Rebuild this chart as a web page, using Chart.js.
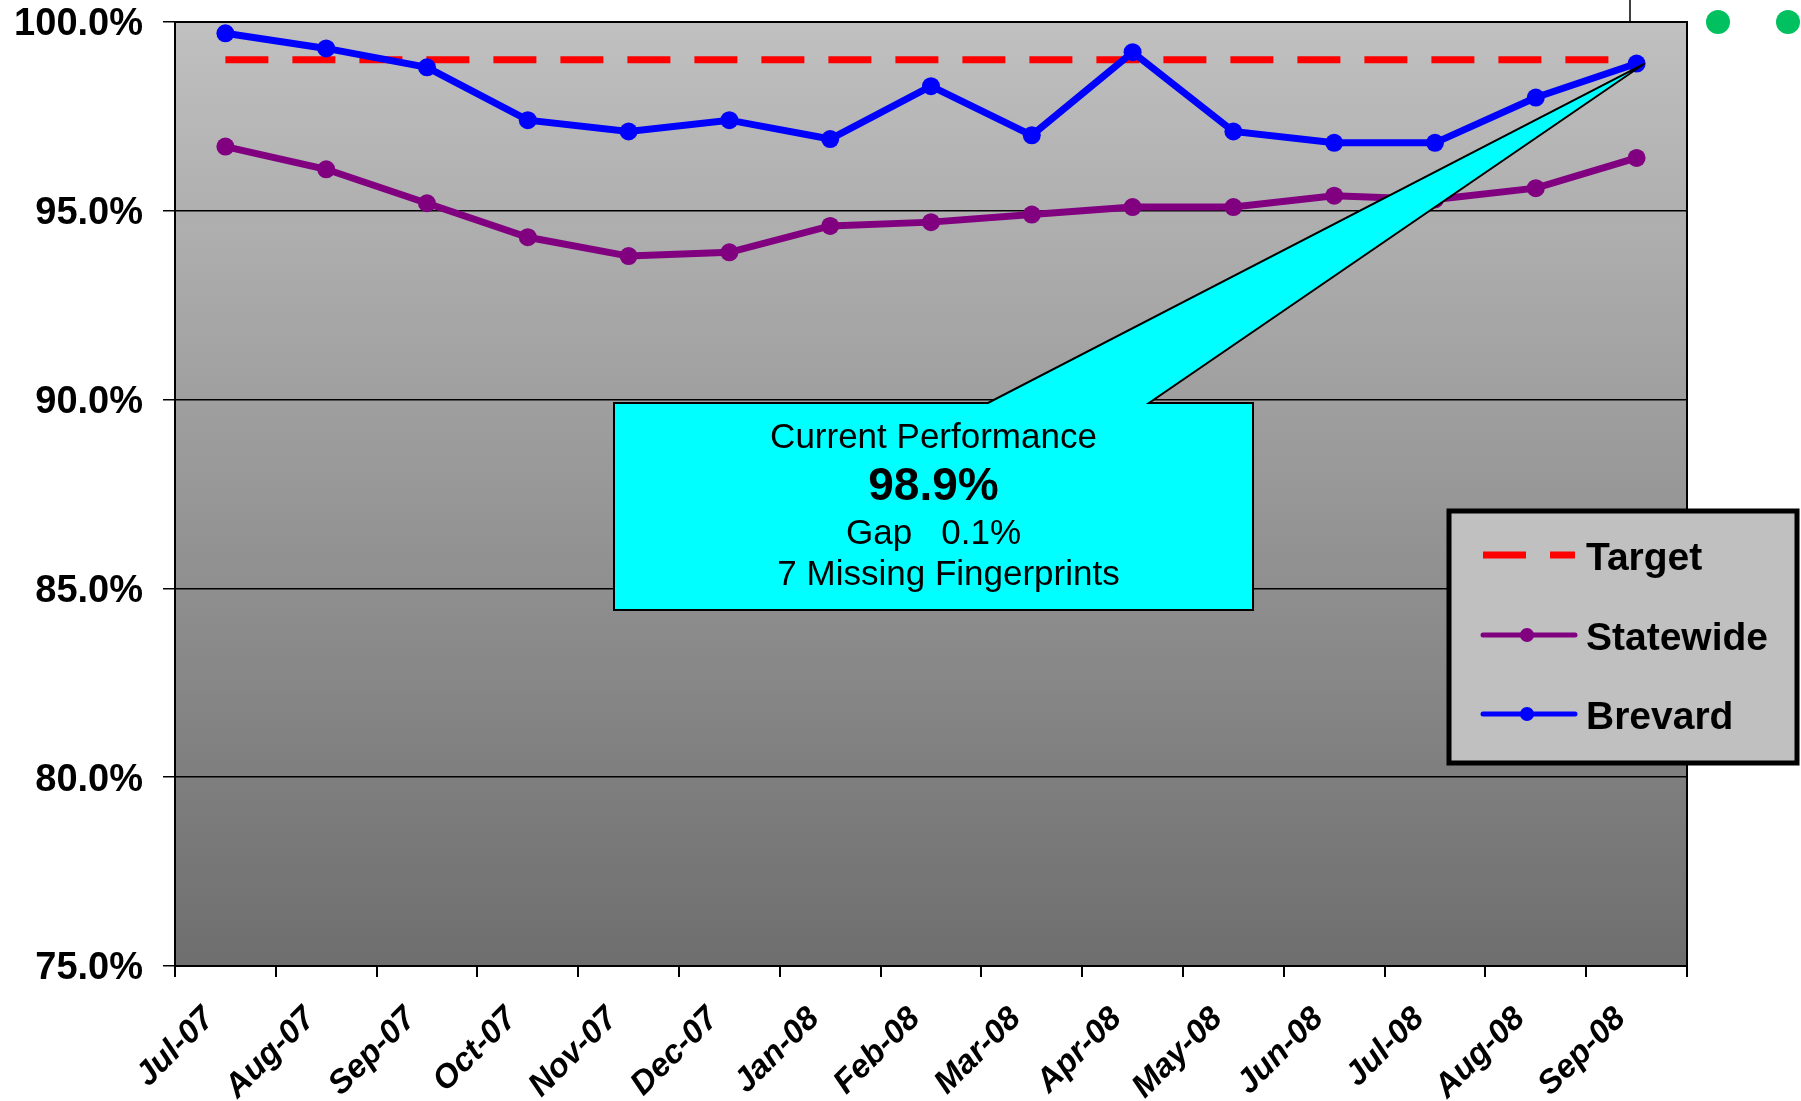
<!DOCTYPE html>
<html>
<head>
<meta charset="utf-8">
<script src="https://cdn.jsdelivr.net/npm/chart.js@4.4.0/dist/chart.umd.min.js"></script>
<style>
  html, body { margin: 0; padding: 0; background: #fff; }
  #wrap { width: 1801px; height: 1101px; }
</style>
</head>
<body>
<div id="wrap"><canvas id="fpChart" width="1801" height="1101"></canvas></div>
<script>
const months = ['Jul-07', 'Aug-07', 'Sep-07', 'Oct-07', 'Nov-07', 'Dec-07', 'Jan-08', 'Feb-08',
  'Mar-08', 'Apr-08', 'May-08', 'Jun-08', 'Jul-08', 'Aug-08', 'Sep-08'];
const target = [99.0, 99.0, 99.0, 99.0, 99.0, 99.0, 99.0, 99.0, 99.0, 99.0, 99.0, 99.0, 99.0, 99.0, 99.0];
const statewide = [96.7, 96.1, 95.2, 94.3, 93.8, 93.9, 94.6, 94.7, 94.9, 95.1, 95.1, 95.4, 95.3, 95.6, 96.4];
const brevard = [99.7, 99.3, 98.8, 97.4, 97.1, 97.4, 96.9, 98.3, 97.0, 99.2, 97.1, 96.8, 96.8, 98.0, 98.9];
const yMin = 75;
const yMax = 100;
const yStep = 5;
const calloutText = ['Current Performance', '98.9%', 'Gap   0.1%', '7 Missing Fingerprints'];

const FONT = "'Liberation Sans', Arial, sans-serif";

// grey gradient behind the plot
const plotBackground = {
  id: 'plotBackground',
  beforeDraw(chart) {
    const { ctx, chartArea: a } = chart;
    const g = ctx.createLinearGradient(0, a.top, 0, a.bottom);
    g.addColorStop(0, '#c0c0c0');
    g.addColorStop(1, '#6e6e6e');
    ctx.save();
    ctx.fillStyle = g;
    ctx.fillRect(a.left, a.top, a.right - a.left, a.bottom - a.top);
    ctx.restore();
  }
};

// top and right edges of the plot
const plotFrame = {
  id: 'plotFrame',
  beforeDatasetsDraw(chart) {
    const { ctx, chartArea: a } = chart;
    ctx.save();
    ctx.strokeStyle = '#000';
    ctx.lineWidth = 2;
    ctx.beginPath();
    ctx.moveTo(a.left, a.top);
    ctx.lineTo(a.right, a.top);
    ctx.lineTo(a.right, a.bottom);
    ctx.stroke();
    ctx.restore();
  }
};

// cyan callout pointing at the latest Brevard value
const callout = {
  id: 'callout',
  afterDatasetsDraw(chart) {
    const { ctx } = chart;
    const last = brevard.length - 1;
    const tipX = chart.scales.x.getPixelForValue(last) + 8;
    const tipY = chart.scales.y.getPixelForValue(brevard[last]);
    const left = 614, right = 1253, top = 403, bottom = 610;
    ctx.save();
    ctx.beginPath();
    ctx.moveTo(left, top);
    ctx.lineTo(988, top);
    ctx.lineTo(tipX, tipY);
    ctx.lineTo(1149, top);
    ctx.lineTo(right, top);
    ctx.lineTo(right, bottom);
    ctx.lineTo(left, bottom);
    ctx.closePath();
    ctx.fillStyle = '#00ffff';
    ctx.fill();
    ctx.strokeStyle = '#000';
    ctx.lineWidth = 2;
    ctx.stroke();

    ctx.fillStyle = '#000';
    ctx.textAlign = 'center';
    ctx.textBaseline = 'middle';
    const cx = (left + right) / 2;
    ctx.font = '35px ' + FONT;
    ctx.fillText(calloutText[0], cx, 438);
    ctx.font = 'bold 46px ' + FONT;
    ctx.fillText(calloutText[1], cx, 487);
    ctx.font = '35px ' + FONT;
    ctx.fillText(calloutText[2], cx, 534);
    ctx.fillText(calloutText[3], cx + 15, 575);
    ctx.restore();
  }
};

// boxed legend on the right, plus the stray marks in the corner
const legendBox = {
  id: 'legendBox',
  afterDraw(chart) {
    const { ctx } = chart;
    ctx.save();
    ctx.fillStyle = '#c0c0c0';
    ctx.fillRect(1449, 511, 348, 252);
    ctx.strokeStyle = '#000';
    ctx.lineWidth = 5;
    ctx.strokeRect(1449, 511, 348, 252);

    const rows = [555, 635, 714];
    chart.data.datasets.forEach((ds, i) => {
      const y = rows[i];
      ctx.strokeStyle = ds.borderColor;
      if (ds.borderDash) {
        ctx.lineWidth = 7;
        ctx.setLineDash(ds.borderDash);
        ctx.lineCap = 'butt';
        ctx.beginPath();
        ctx.moveTo(1483, y);
        ctx.lineTo(1575, y);
        ctx.stroke();
        ctx.setLineDash([]);
      } else {
        ctx.lineWidth = 5;
        ctx.lineCap = 'round';
        ctx.beginPath();
        ctx.moveTo(1483, y);
        ctx.lineTo(1575, y);
        ctx.stroke();
        ctx.fillStyle = ds.borderColor;
        ctx.beginPath();
        ctx.arc(1527, y, 7, 0, Math.PI * 2);
        ctx.fill();
      }
      ctx.fillStyle = '#000';
      ctx.font = 'bold 39px ' + FONT;
      ctx.textAlign = 'left';
      ctx.textBaseline = 'middle';
      ctx.fillText(ds.label, 1586, y + 4);
    });

    ctx.strokeStyle = '#000';
    ctx.lineWidth = 1.5;
    ctx.beginPath();
    ctx.moveTo(1630, 0);
    ctx.lineTo(1630, 22);
    ctx.stroke();
    ctx.fillStyle = '#00c060';
    [1718, 1788].forEach(x => {
      ctx.beginPath();
      ctx.arc(x, 22, 12, 0, Math.PI * 2);
      ctx.fill();
    });
    ctx.restore();
  }
};

const ctx = document.getElementById('fpChart').getContext('2d');
const fpChart = new Chart(ctx, {
  type: 'line',
  data: {
    labels: months,
    datasets: [{
      label: 'Target',
      data: target,
      borderColor: '#ff0000',
      borderWidth: 7,
      borderDash: [43, 24],
      borderCapStyle: 'butt',
      pointRadius: 0,
      order: 2
    }, {
      label: 'Statewide',
      data: statewide,
      borderColor: '#800080',
      backgroundColor: '#800080',
      borderWidth: 7,
      pointRadius: 9,
      pointBorderWidth: 0,
      order: 1
    }, {
      label: 'Brevard',
      data: brevard,
      borderColor: '#0000ff',
      backgroundColor: '#0000ff',
      borderWidth: 7,
      pointRadius: 9,
      pointBorderWidth: 0,
      order: 0
    }]
  },
  options: {
    responsive: false,
    animation: false,
    devicePixelRatio: 1,
    layout: { padding: { top: 22, right: 114, left: 0, bottom: 0 } },
    plugins: {
      legend: { display: false },
      tooltip: { enabled: false }
    },
    scales: {
      x: {
        offset: true,
        afterFit(scale) { scale.height = 135; },
        grid: {
          offset: true,
          drawOnChartArea: false,
          drawTicks: true,
          tickLength: 11,
          color: '#000',
          lineWidth: 2
        },
        border: { color: '#000', width: 2 },
        ticks: {
          autoSkip: false,
          minRotation: 45,
          maxRotation: 45,
          padding: 25,
          labelOffset: -16,
          color: '#000',
          font: { family: FONT, size: 33, weight: 'bold', style: 'italic', lineHeight: 1 }
        }
      },
      y: {
        min: yMin,
        max: yMax,
        afterFit(scale) {
          scale.width = 175;
          scale.paddingTop = 0;
          scale.paddingBottom = 0;
        },
        grid: {
          color: '#000',
          lineWidth: 1.5,
          tickLength: 12
        },
        border: { color: '#000', width: 2 },
        ticks: {
          stepSize: yStep,
          padding: 20,
          labelOffset: 3,
          color: '#000',
          font: { family: FONT, size: 38, weight: 'bold', lineHeight: 1 },
          callback: v => v.toFixed(1) + '%'
        }
      }
    }
  },
  plugins: [plotBackground, plotFrame, callout, legendBox]
});
</script>
</body>
</html>
